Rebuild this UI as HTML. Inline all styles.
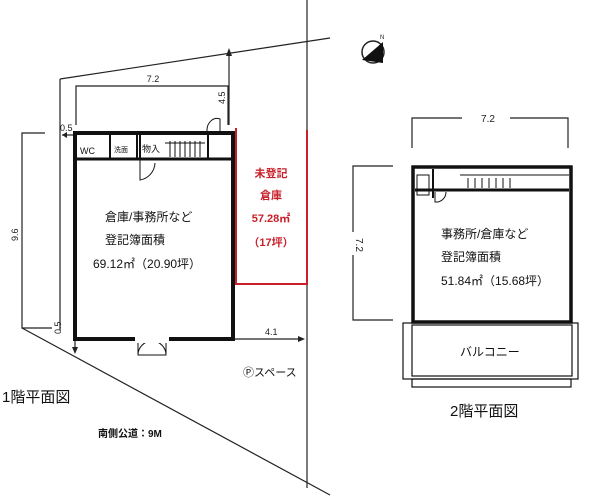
<!DOCTYPE html>
<html><head><meta charset="utf-8"><style>
html,body{margin:0;padding:0;background:#fff;}
svg{display:block}
text{font-family:"Liberation Sans","Noto Sans CJK JP",sans-serif;}
</style></head><body>
<svg width="600" height="498" viewBox="0 0 600 498" xmlns="http://www.w3.org/2000/svg">
<g fill="none" stroke="#222" stroke-width="1.2">
<line x1="60" y1="79" x2="330" y2="38"/>
<line x1="60" y1="79" x2="60" y2="330"/>
<line x1="307" y1="0" x2="307" y2="488"/>
<line x1="22" y1="328" x2="330" y2="495"/>
<polyline points="45,133 22,133 22,328 52,328"/>
<polyline points="76,125 76,86 228,86 228,125"/>
<line x1="229" y1="52" x2="229" y2="125"/>
<line x1="62" y1="135" x2="75" y2="135"/>
<line x1="75" y1="338" x2="75" y2="352"/>
<line x1="235" y1="339" x2="303" y2="339"/>
</g>
<g fill="#222">
<polygon points="229,48 226,56 232,56"/>
<polygon points="62,135 67,132 67,138"/>
<polygon points="75,354 72,347 78,347"/>
<polygon points="305,339 298,336 298,342"/>
</g>
<g fill="none" stroke="#111">
<rect x="75" y="133" width="158" height="206" stroke-width="4"/>
<line x1="77" y1="159" x2="231" y2="159" stroke-width="3"/>
<line x1="110" y1="135" x2="110" y2="159" stroke-width="2"/>
<line x1="137" y1="135" x2="137" y2="159" stroke-width="2"/>
<line x1="140" y1="135" x2="140" y2="159" stroke-width="2"/>
<line x1="208" y1="135" x2="208" y2="159" stroke-width="2"/>
<g stroke-width="1"><line x1="170" y1="141" x2="170" y2="157"/><line x1="175" y1="141" x2="175" y2="157"/><line x1="180" y1="141" x2="180" y2="157"/><line x1="185" y1="141" x2="185" y2="157"/><line x1="190" y1="141" x2="190" y2="157"/><line x1="195" y1="141" x2="195" y2="157"/><line x1="200" y1="141" x2="200" y2="157"/><line x1="165" y1="143" x2="205" y2="143"/>
<path d="M207,131 A10,12 0 0 1 220,119 L220,131"/>
<path d="M140,160 L140,180 A18,18 0 0 0 155,163"/>
<path d="M138,341 L138,355 L166,355 L166,341"/>
<path d="M138,355 A14,14 0 0 1 152,341 M166,355 A14,14 0 0 0 152,341"/>
</g>
</g>
<rect x="135" y="337" width="34" height="6" fill="#fff"/>
<g stroke="#c8202a" stroke-width="2" fill="none"><polyline points="236,128 236,284 307,284 307,130"/></g>
<g font-size="9" fill="#111"><text x="80" y="154">WC</text><text x="114" y="152" font-size="7">洗面</text><text x="142" y="152">物入</text></g>
<g font-size="12" fill="#111">
<text x="105" y="221">倉庫/事務所など</text>
<text x="105" y="244">登記簿面積</text>
<text x="93" y="268">69.12㎡（20.90坪）</text>
</g>
<g font-size="11" fill="#c8202a" text-anchor="middle" font-weight="bold">
<text x="271" y="177">未登記</text>
<text x="271" y="199">倉庫</text>
<text x="271" y="222">57.28㎡</text>
<text x="271" y="246">（17坪）</text>
</g>
<g font-size="9" fill="#222">
<text x="153" y="82" text-anchor="middle">7.2</text>
<text x="60" y="131">0.5</text>
<text transform="translate(225,104) rotate(-90)">4.5</text>
<text transform="translate(18,241) rotate(-90)">9.6</text>
<text transform="translate(61,334) rotate(-90)">0.5</text>
<text x="265" y="335">4.1</text>
</g>
<text x="243" y="376" font-size="11" fill="#111">Ⓟスペース</text>
<text x="2" y="402" font-size="15" fill="#111">1階平面図</text>
<text x="98" y="437" font-size="10" font-weight="bold" fill="#111">南側公道：9M</text>
<circle cx="373" cy="52" r="11" fill="none" stroke="#222" stroke-width="1.5"/>
<polygon points="362,60 383,42 383,63" fill="#111"/>
<text x="380" y="39" font-size="6" fill="#222">N</text>
<g fill="none" stroke="#222" stroke-width="1.2">
<path d="M412,148 L412,118 L462,118 M510,118 L568,118 L568,148"/>
<path d="M393,166 L353,166 L353,232 M353,255 L353,320 L393,320"/>
</g>
<text x="488" y="122" font-size="10" text-anchor="middle" fill="#222">7.2</text>
<text transform="translate(356,238) rotate(90)" font-size="10" fill="#222">7.2</text>
<g fill="none" stroke="#111">
<rect x="413" y="167" width="158" height="155" stroke-width="3.5"/>
<line x1="415" y1="190" x2="569" y2="190" stroke-width="3"/>
<line x1="433" y1="169" x2="433" y2="198" stroke-width="2"/>
<line x1="460" y1="175" x2="569" y2="175" stroke-width="1"/>
<g stroke-width="1"><line x1="468" y1="178" x2="468" y2="188"/><line x1="475" y1="178" x2="475" y2="188"/><line x1="482" y1="178" x2="482" y2="188"/><line x1="489" y1="178" x2="489" y2="188"/><line x1="496" y1="178" x2="496" y2="188"/><line x1="503" y1="178" x2="503" y2="188"/><line x1="510" y1="178" x2="510" y2="188"/>
<rect x="417" y="175" width="12" height="20"/>
<path d="M435,192 L435,202 A10,10 0 0 0 446,192"/>
</g>
<g stroke-width="1.2">
<rect x="403" y="323" width="175" height="56"/>
<rect x="412" y="325" width="160" height="51"/>
<rect x="412" y="379" width="159" height="8"/>
</g>
</g>
<g font-size="12" fill="#111">
<text x="441" y="238">事務所/倉庫など</text>
<text x="441" y="261">登記簿面積</text>
<text x="441" y="285">51.84㎡（15.68坪）</text>
<text x="460" y="356">バルコニー</text>
</g>
<text x="450" y="416" font-size="15" fill="#111">2階平面図</text>
</svg>
</body></html>
